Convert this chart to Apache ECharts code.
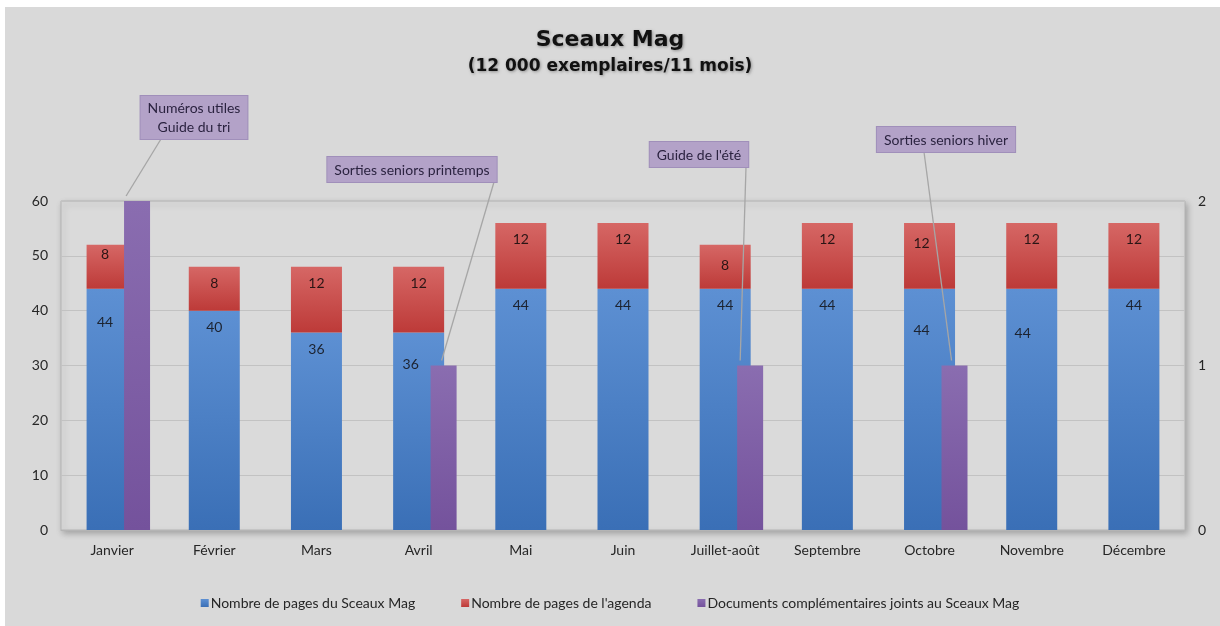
<!DOCTYPE html>
<html>
<head>
<meta charset="utf-8">
<script src="https://cdn.jsdelivr.net/npm/echarts@6/dist/echarts.min.js"></script>
<style>
  html, body { margin: 0; padding: 0; background: #fff; }
  #chart { width: 1220px; height: 626px; }
</style>
</head>
<body>
<div id="chart"></div>
<script>
// données
const months = ['Janvier', 'Février', 'Mars', 'Avril', 'Mai', 'Juin', 'Juillet-août', 'Septembre', 'Octobre', 'Novembre', 'Décembre']
const pagesMag = [44, 40, 36, 36, 44, 44, 44, 44, 44, 44, 44]
const pagesAgenda = [8, 8, 12, 12, 12, 12, 8, 12, 12, 12, 12]
const docsJoints = [2, null, null, 1, null, null, 1, null, 1, null, null]
const seriesNames = ['Nombre de pages du Sceaux Mag', "Nombre de pages de l'agenda", 'Documents complémentaires joints au Sceaux Mag']
const notes = [
  { month: 0, text: 'Numéros utiles\nGuide du tri' },
  { month: 3, text: 'Sorties seniors printemps' },
  { month: 6, text: "Guide de l'été" },
  { month: 8, text: 'Sorties seniors hiver' }
]

// placement des étiquettes (décalages à la main comme dans l'original)
const nudgeBlue = { 0: [-7, 17], 3: [-8, 15], 8: [-8, 25], 9: [-9, 28] }
const nudgeRed = { 0: [-7, -7], 6: [0, 4], 8: [-8, 4] }
// bulles : [centre x, haut, ancrage x du trait, décalage x du bout du trait]
const noteBoxes = [[194, 96, 161, -11], [412, 157, 494, -2], [699, 142, 746, -10], [946, 127, 924, -3]]

const FONT = 'Lato'
const TXT = '#262626'

function grad (top, bottom) {
  return new echarts.graphic.LinearGradient(0, 0, 0, 1, [
    { offset: 0, color: top },
    { offset: 1, color: bottom }
  ])
}

function withLabels (values, nudge) {
  return values.map((v, i) => {
    if (!nudge[i]) return v
    return { value: v, label: { offset: nudge[i] } }
  })
}

const chart = echarts.init(document.getElementById('chart'))

const titleShadow = { textShadowColor: 'rgba(0,0,0,0.35)', textShadowBlur: 3, textShadowOffsetX: 1, textShadowOffsetY: 1 }

const option = {
  backgroundColor: '#fff',
  animation: false,
  textStyle: { fontFamily: FONT },
  title: {
    text: 'Sceaux Mag',
    subtext: '(12 000 exemplaires/11 mois)',
    left: 'center',
    top: 24,
    itemGap: 7,
    textStyle: Object.assign({ fontFamily: 'DejaVu Sans', fontSize: 22, fontWeight: 'bold', color: '#111' }, titleShadow),
    subtextStyle: Object.assign({ fontFamily: 'DejaVu Sans', fontSize: 17, fontWeight: 'bold', color: '#111' }, titleShadow)
  },
  legend: {
    data: seriesNames,
    bottom: 11,
    left: 'center',
    itemWidth: 8,
    itemHeight: 8,
    itemGap: 46,
    icon: 'rect',
    selectedMode: false,
    textStyle: { fontFamily: FONT, fontSize: 14, color: TXT, padding: [0, 0, 0, -3] }
  },
  grid: {
    left: 61,
    right: 35,
    top: 201,
    bottom: 96,
    show: true,
    borderColor: '#b4b4b4',
    borderWidth: 1,
    shadowColor: 'rgba(0,0,0,0.25)',
    shadowBlur: 6,
    shadowOffsetX: 2,
    shadowOffsetY: 3,
    backgroundColor: '#dadada'
  },
  xAxis: [{
    type: 'category',
    data: months,
    axisLine: { lineStyle: { color: '#b4b4b4' } },
    axisTick: { show: false },
    axisLabel: { fontFamily: FONT, fontSize: 14, color: TXT, margin: 13 }
  }, {
    type: 'category',
    data: months,
    show: false
  }],
  yAxis: [{
    type: 'value',
    min: 0,
    max: 60,
    interval: 10,
    axisLine: { show: false },
    axisTick: { show: false },
    axisLabel: { fontFamily: FONT, fontSize: 14, color: TXT, margin: 13 },
    splitLine: { lineStyle: { color: '#c2c2c2' } }
  }, {
    type: 'value',
    min: 0,
    max: 2,
    interval: 1,
    axisLine: { show: false },
    axisTick: { show: false },
    axisLabel: { fontFamily: FONT, fontSize: 14, color: TXT, margin: 13 },
    splitLine: { show: false }
  }],
  series: [{
    name: seriesNames[0],
    type: 'bar',
    stack: 'pages',
    barWidth: 51,
    data: withLabels(pagesMag, nudgeBlue),
    itemStyle: { color: grad('#5d90d3', '#3a6fb6') },
    label: { show: true, position: 'insideTop', distance: 10, fontFamily: FONT, fontSize: 14, color: '#1c2330' }
  }, {
    name: seriesNames[1],
    type: 'bar',
    stack: 'pages',
    barWidth: 51,
    data: withLabels(pagesAgenda, nudgeRed),
    itemStyle: { color: grad('#d66765', '#bd3a38') },
    label: { show: true, position: 'insideTop', distance: 10, fontFamily: FONT, fontSize: 14, color: '#2a1515' }
  }, {
    // série vide pour décaler les documents vers la droite
    type: 'bar',
    xAxisIndex: 1,
    yAxisIndex: 1,
    barWidth: 26,
    barGap: '92%',
    data: months.map(() => null),
    silent: true
  }, {
    name: seriesNames[2],
    type: 'bar',
    xAxisIndex: 1,
    yAxisIndex: 1,
    barWidth: 26,
    barGap: '92%',
    data: docsJoints,
    itemStyle: { color: grad('#8a6db0', '#74529c') }
  }]
}

chart.setOption(option)

// bulles et traits de rappel
const graphics = [{
  type: 'rect',
  z: -10,
  silent: true,
  shape: { x: 5, y: 7, width: 1215, height: 619 },
  style: { fill: '#d9d9d9' }
}]
notes.forEach((n, i) => {
  const box = noteBoxes[i]
  const barTop = chart.convertToPixel({ xAxisIndex: 1, yAxisIndex: 1 }, [n.month, docsJoints[n.month]])
  const lines = n.text.split('\n').length
  const h = lines > 1 ? 43 : 25
  graphics.push({
    type: 'line',
    z: 50,
    shape: { x1: box[2], y1: box[1] + h, x2: barTop[0] + 25 + box[3], y2: barTop[1] - 5 },
    style: { stroke: '#a6a6a6', lineWidth: 1.3 }
  })
  graphics.push({
    type: 'text',
    z: 60,
    x: box[0],
    y: box[1],
    style: {
      text: n.text,
      fontFamily: FONT,
      fontSize: 14,
      lineHeight: 19,
      fill: '#2b2340',
      align: 'center',
      backgroundColor: '#b3a2c8',
      borderColor: '#a08fba',
      borderWidth: 1,
      padding: lines > 1 ? [3, 7, 2, 7] : [4, 7, 2, 7]
    }
  })
})
chart.setOption({ graphic: graphics })
</script>
</body>
</html>
